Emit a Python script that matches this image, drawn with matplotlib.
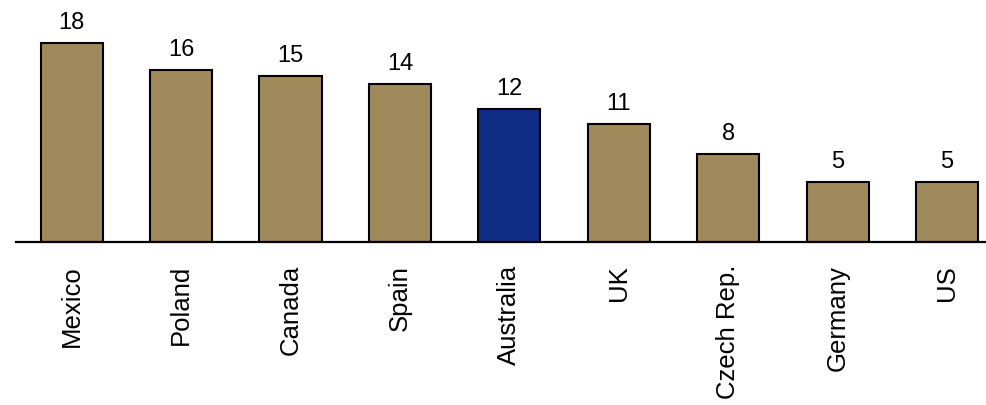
import matplotlib
matplotlib.use("Agg")
import matplotlib.pyplot as plt

# values (labels are the rounded values)
countries = ["Mexico", "Poland", "Canada", "Spain", "Australia", "UK",
             "Czech Rep.", "Germany", "US"]
values = [18.0, 15.6, 15.0, 14.3, 12.0, 10.7, 7.96, 5.42, 5.42]
highlight = "Australia"

TAN = "#A0895A"
NAVY = "#0F2C84"

plt.rcParams["font.family"] = ["Liberation Sans", "DejaVu Sans"]

fig = plt.figure(figsize=(9.86, 4.06), dpi=100)
ax = fig.add_axes([16 / 986, 163.3 / 406, 970 / 986, 242.7 / 406])

colors = [NAVY if c == highlight else TAN for c in countries]
x = list(range(len(countries)))
bars = ax.bar(x, values, width=0.567, color=colors, edgecolor="black",
              linewidth=1.5, zorder=2)

for xi, v in zip(x, values):
    ax.annotate(f"{round(v):d}", xy=(xi, v), xytext=(0, 10.8),
                textcoords="offset points", ha="center", va="baseline",
                fontsize=17)

ax.set_xlim(-0.509, 8.357)
ax.set_ylim(0, 22.0)
ax.set_xticks(x)
ax.set_xticklabels(countries, rotation=90, fontsize=18.5, va="top")
ax.tick_params(axis="x", length=0, pad=16)
ax.set_yticks([])

for side in ["top", "right", "left"]:
    ax.spines[side].set_visible(False)
ax.spines["bottom"].set_linewidth(1.6)
ax.spines["bottom"].set_zorder(3)

fig.savefig("out.png", dpi=100)
